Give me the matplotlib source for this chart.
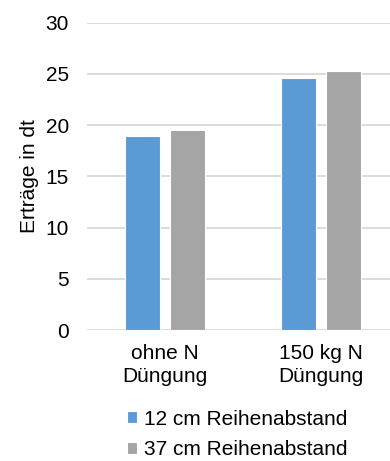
import matplotlib.pyplot as plt
import numpy as np

plt.rcParams['font.family'] = ['Liberation Sans', 'DejaVu Sans']

categories = ['ohne N\nDüngung', '150 kg N\nDüngung']
series_names = ['12 cm Reihenabstand', '37 cm Reihenabstand']
ertrag_12cm = [18.9, 24.6]
ertrag_37cm = [19.5, 25.3]
colors = ['#5B9BD5', '#A5A5A5']

fig = plt.figure(figsize=(3.9, 4.61), dpi=100)
ax = fig.add_axes([0.223, 0.284, 0.777, 0.667])

x = np.arange(len(categories))
w = 0.224
off = 0.143
b1 = ax.bar(x - off, ertrag_12cm, w, color=colors[0], edgecolor='white', linewidth=0.8, zorder=3)
b2 = ax.bar(x + off, ertrag_37cm, w, color=colors[1], edgecolor='white', linewidth=0.8, zorder=3)

ax.set_ylim(0, 30)
ax.set_xlim(-0.5, 1.44)
ax.set_yticks(range(0, 31, 5))
ax.yaxis.grid(True, color='#D9D9D9', linewidth=1.3, zorder=0)
ax.set_axisbelow(True)
for s in ax.spines.values():
    s.set_visible(False)
ax.tick_params(axis='both', length=0, labelsize=15, colors='#000000')
ax.tick_params(axis='y', pad=13)
ax.tick_params(axis='x', pad=10)
ax.set_xticks(x)
ax.set_xticklabels(categories, linespacing=1.3)
ax.set_ylabel('Erträge in dt', fontsize=15, labelpad=5)

fig.legend([b1, b2], series_names, loc='upper left', bbox_to_anchor=(0.325, 0.111),
           frameon=False, fontsize=15, handlelength=0.5, handleheight=0.5,
           handletextpad=0.35, labelspacing=0.55, borderaxespad=0, borderpad=0)

fig.savefig('out.png', dpi=100)
